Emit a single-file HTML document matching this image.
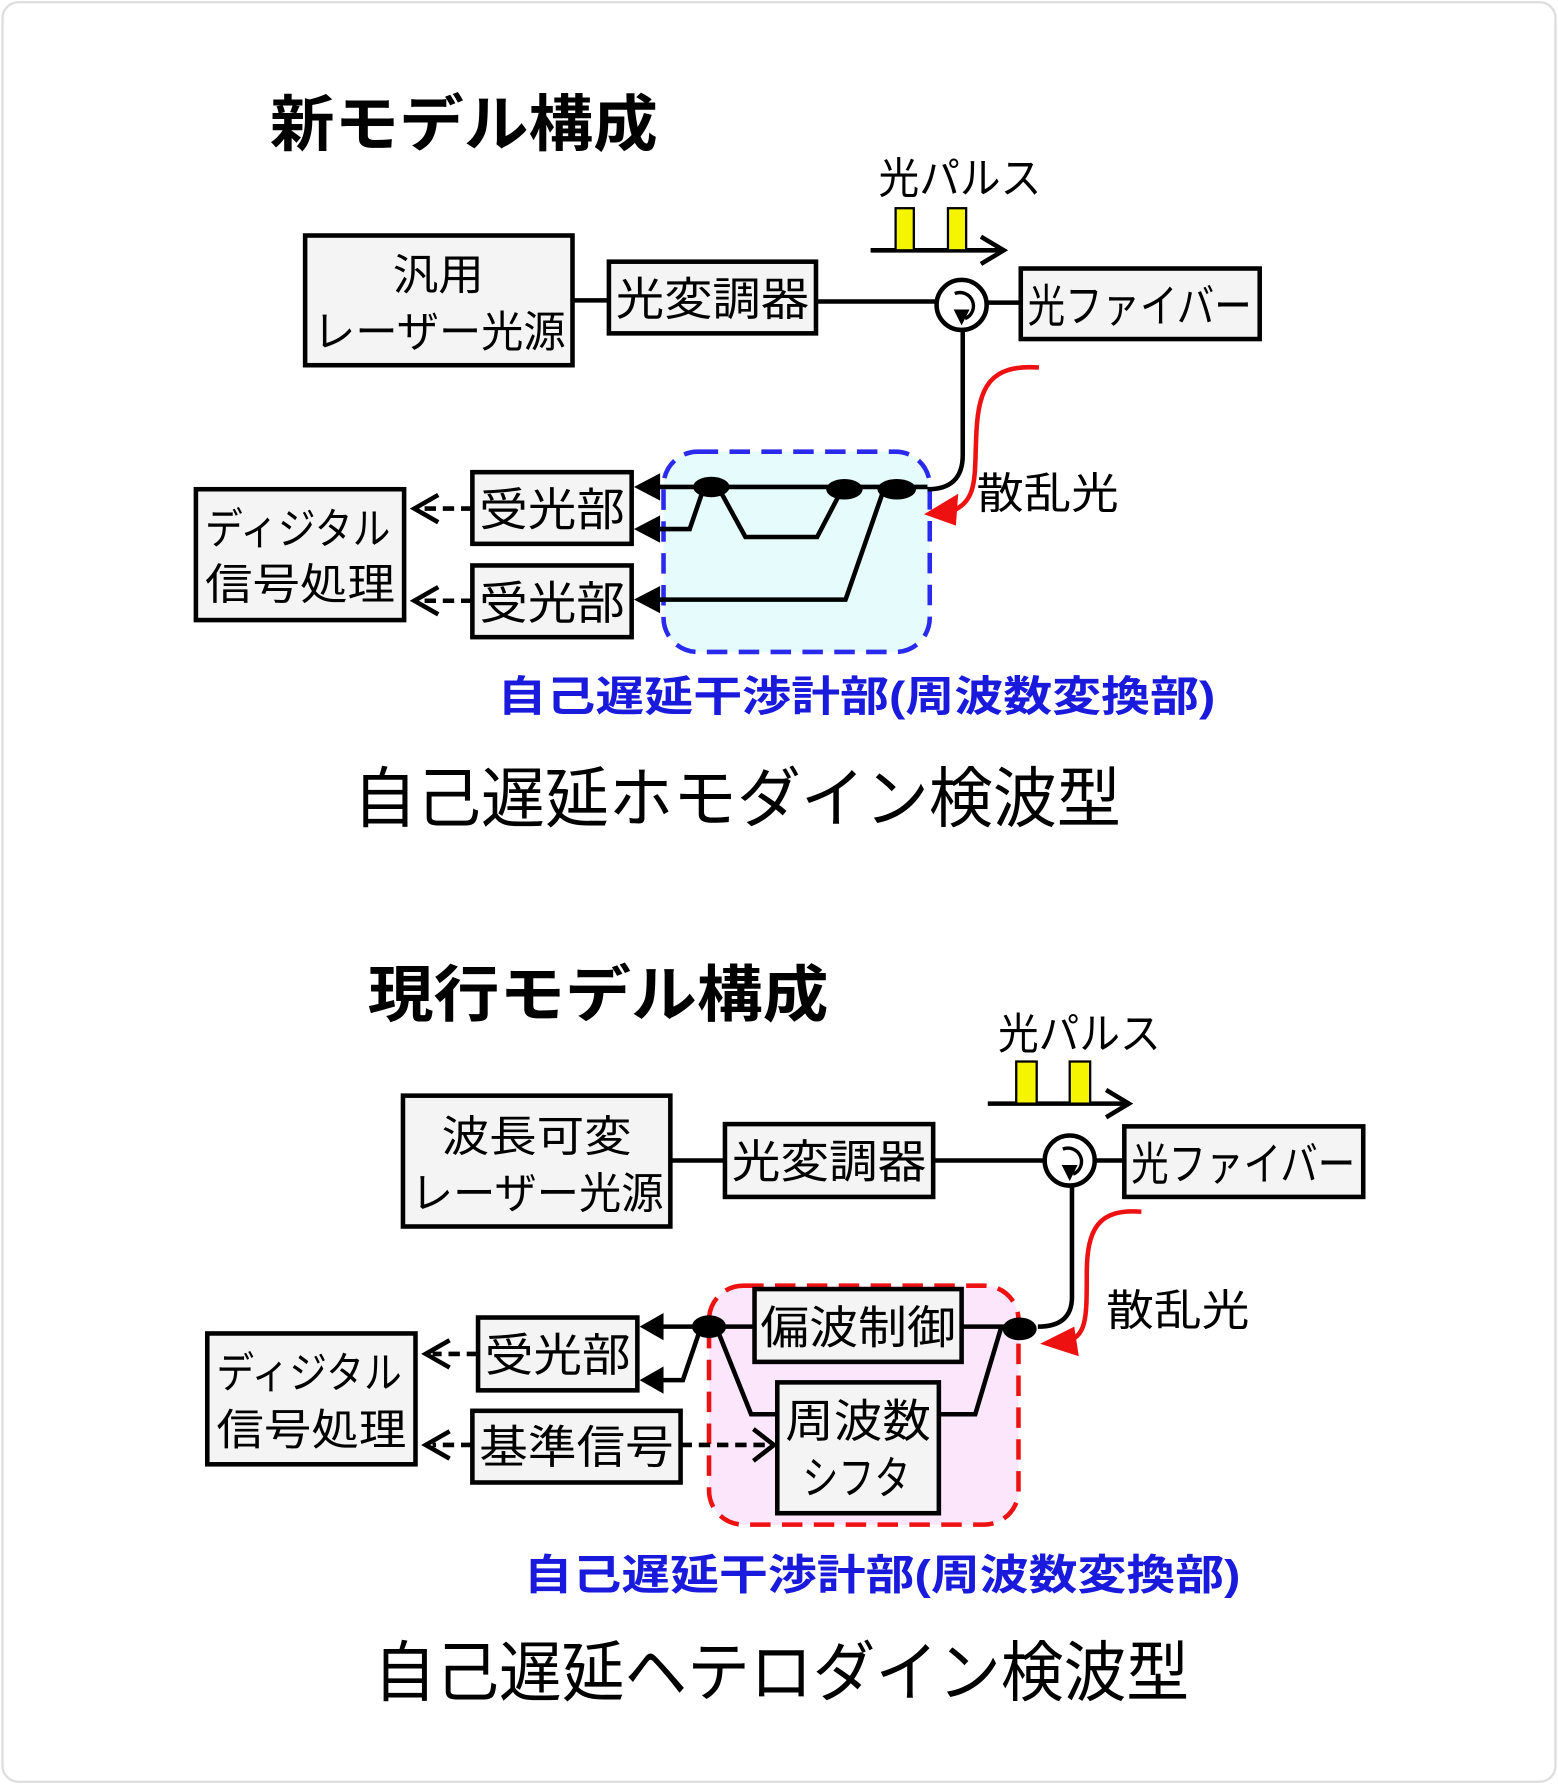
<!DOCTYPE html>
<html><head><meta charset="utf-8"><style>
html,body{margin:0;padding:0;background:#fff;}
svg{display:block;}
text{font-family:"Liberation Sans","Noto Sans CJK JP",sans-serif;fill:#000;}
.b{font-weight:bold;}
</style></head><body>
<svg width="1558" height="1784" viewBox="0 0 1369 1568" xmlns="http://www.w3.org/2000/svg">
<rect x="2" y="2" width="1365" height="1564" rx="14" fill="#fff" stroke="#ddd" stroke-width="2"/>
<g stroke="#000" stroke-width="4" fill="none">
<!-- Section 1 -->
<rect x="583" y="397" width="234" height="176" rx="30" fill="#e6fcfc" stroke="#2a2aee" stroke-dasharray="18,10"/>
<rect x="268" y="207" width="235" height="114" fill="#f4f4f4"/>
<rect x="535" y="230" width="182" height="63" fill="#f4f4f4"/>
<rect x="897" y="236" width="210" height="62" fill="#f4f4f4"/>
<rect x="415" y="415" width="140" height="63" fill="#f4f4f4"/>
<rect x="415" y="497" width="140" height="63" fill="#f4f4f4"/>
<rect x="172" y="430" width="183" height="115" fill="#f4f4f4"/>
<line x1="503" y1="264" x2="535" y2="264"/>
<line x1="717" y1="265" x2="823" y2="265"/>
<line x1="867" y1="266" x2="897" y2="266"/>
<circle cx="845" cy="268" r="22" fill="#fff"/>
<path d="M839,258 A11,11 0 1 1 848,280" stroke-width="3"/>
<path d="M846,290 L846,400 Q846,430 815,430"/>
<line x1="575" y1="428" x2="815" y2="428"/>
<path d="M632,430 L655,472 L718,472 L740,430"/>
<path d="M618,430 L606,465 L575,465"/>
<path d="M776,432 L743,527 L575,527"/>
<line x1="765" y1="220" x2="880" y2="220"/>
<path d="M862,208 L882,220 L862,232"/>
<line x1="415" y1="447" x2="368" y2="447" stroke-dasharray="10,6"/>
<path d="M385,435 L364,447 L385,459"/>
<line x1="415" y1="528" x2="368" y2="528" stroke-dasharray="10,6"/>
<path d="M385,516 L364,528 L385,540"/>
<path d="M913,323 C870,320 860,340 858,380 C856,420 860,440 835,450" stroke="#ee1111"/>
<!-- Section 2 -->
<rect x="623" y="1130" width="272" height="210" rx="30" fill="#fce6fc" stroke="#ee1111" stroke-dasharray="18,10"/>
<rect x="354" y="963" width="235" height="115" fill="#f4f4f4"/>
<rect x="637" y="988" width="183" height="64" fill="#f4f4f4"/>
<rect x="988" y="990" width="210" height="62" fill="#f4f4f4"/>
<rect x="663" y="1133" width="182" height="64" fill="#f4f4f4"/>
<rect x="683" y="1215" width="142" height="115" fill="#f4f4f4"/>
<rect x="420" y="1158" width="140" height="64" fill="#f4f4f4"/>
<rect x="415" y="1240" width="183" height="63" fill="#f4f4f4"/>
<rect x="182" y="1172" width="183" height="115" fill="#f4f4f4"/>
<line x1="589" y1="1020" x2="637" y2="1020"/>
<line x1="820" y1="1020" x2="918" y2="1020"/>
<line x1="963" y1="1020" x2="988" y2="1020"/>
<circle cx="940" cy="1020" r="22" fill="#fff"/>
<path d="M934,1010 A11,11 0 1 1 943,1032" stroke-width="3"/>
<path d="M942,1042 L942,1140 Q942,1166 912,1166"/>
<line x1="578" y1="1166" x2="663" y2="1166"/>
<path d="M845,1166 L880,1166 L857,1243 L825,1243"/>
<path d="M630,1168 L660,1243 L683,1243"/>
<path d="M614,1172 L600,1213 L578,1213"/>
<line x1="598" y1="1270" x2="678" y2="1270" stroke-dasharray="10,6"/>
<path d="M662,1256 L680,1270 L662,1284"/>
<line x1="420" y1="1190" x2="380" y2="1190" stroke-dasharray="10,6"/>
<path d="M395,1178 L374,1190 L395,1202"/>
<line x1="415" y1="1270" x2="380" y2="1270" stroke-dasharray="10,6"/>
<path d="M395,1258 L374,1270 L395,1282"/>
<line x1="868" y1="970" x2="990" y2="970"/>
<path d="M972,958 L992,970 L972,982"/>
<path d="M1003,1065 C965,1062 955,1080 955,1120 C955,1160 955,1175 935,1180" stroke="#ee1111"/>
</g>
<!-- filled bits -->
<g fill="#000">
<path d="M557,428 L580,416 L580,440 z"/>
<path d="M557,465 L580,453 L580,477 z"/>
<path d="M557,527 L580,515 L580,539 z"/>
<path d="M562,1166 L583,1154 L583,1178 z"/>
<path d="M562,1213 L583,1201 L583,1225 z"/>
<path d="M838,272 L852,272 L845,286 z"/>
<path d="M933,1024 L947,1024 L940,1038 z"/>
<ellipse cx="625" cy="428" rx="16" ry="9"/>
<ellipse cx="742" cy="430" rx="16" ry="9"/>
<ellipse cx="788" cy="430" rx="17" ry="9"/>
<ellipse cx="623" cy="1166" rx="15" ry="10"/>
<ellipse cx="896" cy="1168" rx="15" ry="10"/>
</g>
<path d="M812,452 L842,434 L840,462 z" fill="#ee1111"/>
<path d="M914,1181 L944,1166 L948,1192 z" fill="#ee1111"/>
<rect x="787" y="183" width="16" height="37" fill="#f5f500" stroke="#000" stroke-width="2"/>
<rect x="833" y="183" width="16" height="37" fill="#f5f500" stroke="#000" stroke-width="2"/>
<rect x="893" y="933" width="18" height="37" fill="#f5f500" stroke="#000" stroke-width="2"/>
<rect x="940" y="933" width="18" height="37" fill="#f5f500" stroke="#000" stroke-width="2"/>
<!-- texts section 1 -->
<g lengthAdjust="spacingAndGlyphs">
<text x="237" y="128" font-size="54" class="b" textLength="341" lengthAdjust="spacingAndGlyphs">新モデル構成</text>
<text x="772" y="170" font-size="38" textLength="143" lengthAdjust="spacingAndGlyphs">光パルス</text>
<text x="345" y="255" font-size="38" textLength="80" lengthAdjust="spacingAndGlyphs">汎用</text>
<text x="275" y="305" font-size="38" textLength="222" lengthAdjust="spacingAndGlyphs">レーザー光源</text>
<text x="541" y="277" font-size="40" textLength="170" lengthAdjust="spacingAndGlyphs">光変調器</text>
<text x="903" y="283" font-size="40" textLength="197" lengthAdjust="spacingAndGlyphs">光ファイバー</text>
<text x="421" y="462" font-size="40" textLength="128" lengthAdjust="spacingAndGlyphs">受光部</text>
<text x="421" y="544" font-size="40" textLength="128" lengthAdjust="spacingAndGlyphs">受光部</text>
<text x="180" y="478" font-size="38" textLength="163" lengthAdjust="spacingAndGlyphs">ディジタル</text>
<text x="180" y="527" font-size="38" textLength="167" lengthAdjust="spacingAndGlyphs">信号処理</text>
<text x="858" y="447" font-size="38" textLength="125" lengthAdjust="spacingAndGlyphs">散乱光</text>
<text x="437" y="625" font-size="37" class="b" style="fill:#1a1add" textLength="631" lengthAdjust="spacingAndGlyphs">自己遅延干渉計部(周波数変換部)</text>
<text x="310" y="722" font-size="58" textLength="675" lengthAdjust="spacingAndGlyphs">自己遅延ホモダイン検波型</text>
<!-- texts section 2 -->
<text x="323" y="893" font-size="54" class="b" textLength="405" lengthAdjust="spacingAndGlyphs">現行モデル構成</text>
<text x="877" y="922" font-size="38" textLength="143" lengthAdjust="spacingAndGlyphs">光パルス</text>
<text x="388" y="1012" font-size="38" textLength="167" lengthAdjust="spacingAndGlyphs">波長可変</text>
<text x="361" y="1062" font-size="38" textLength="222" lengthAdjust="spacingAndGlyphs">レーザー光源</text>
<text x="643" y="1035" font-size="40" textLength="171" lengthAdjust="spacingAndGlyphs">光変調器</text>
<text x="994" y="1037" font-size="40" textLength="197" lengthAdjust="spacingAndGlyphs">光ファイバー</text>
<text x="668" y="1181" font-size="40" textLength="172" lengthAdjust="spacingAndGlyphs">偏波制御</text>
<text x="690" y="1263" font-size="40" textLength="128" lengthAdjust="spacingAndGlyphs">周波数</text>
<text x="705" y="1313" font-size="40" textLength="95" lengthAdjust="spacingAndGlyphs">シフタ</text>
<text x="426" y="1205" font-size="40" textLength="128" lengthAdjust="spacingAndGlyphs">受光部</text>
<text x="421" y="1286" font-size="40" textLength="171" lengthAdjust="spacingAndGlyphs">基準信号</text>
<text x="190" y="1220" font-size="38" textLength="163" lengthAdjust="spacingAndGlyphs">ディジタル</text>
<text x="190" y="1270" font-size="38" textLength="167" lengthAdjust="spacingAndGlyphs">信号処理</text>
<text x="972" y="1165" font-size="38" textLength="126" lengthAdjust="spacingAndGlyphs">散乱光</text>
<text x="460" y="1397" font-size="37" class="b" style="fill:#1a1add" textLength="630" lengthAdjust="spacingAndGlyphs">自己遅延干渉計部(周波数変換部)</text>
<text x="328" y="1490" font-size="58" textLength="717" lengthAdjust="spacingAndGlyphs">自己遅延ヘテロダイン検波型</text>
</g>
</svg>
</body></html>
